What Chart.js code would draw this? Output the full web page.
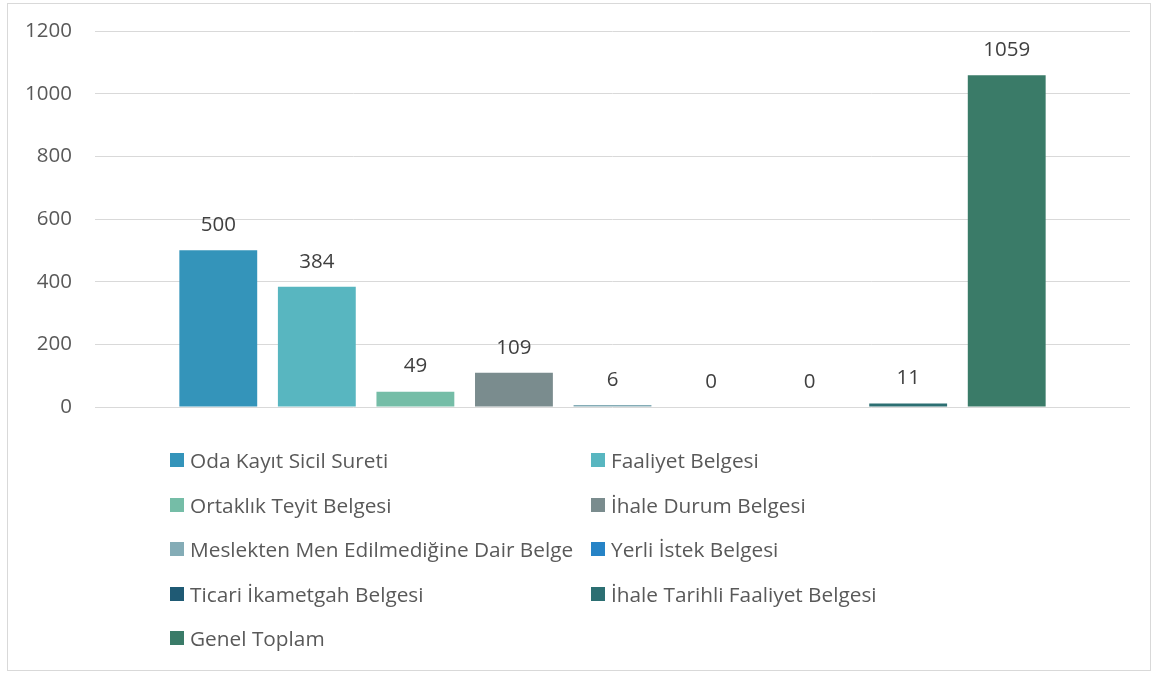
<!DOCTYPE html>
<html lang="tr">
<head>
<meta charset="UTF-8">
<title>Belgeler</title>
<style>
    body { margin: 0; background: #fff; }
    #wrap { position: relative; width: 1155px; height: 675px; }
    #frame { position: absolute; left: 7px; top: 3px; width: 1142px; height: 666px; border: 1px solid #d9d9d9; pointer-events: none; }
    #legend { position: absolute; left: 170px; top: 447px; display: grid; grid-template-columns: 421px 400px; grid-auto-rows: 44.5px;
              font-family: "Open Sans", sans-serif; font-size: 20.8px; color: #595959; }
    #legend .item { display: flex; align-items: center; height: 26px; white-space: nowrap; }
    #legend .box { width: 14px; height: 14px; margin-right: 6px; flex: none; }
</style>
</head>
<body>
<script src="https://cdn.jsdelivr.net/npm/chart.js@4/dist/chart.umd.min.js"></script>
<div id="wrap">
    <canvas id="chart" width="1155" height="675"></canvas>
    <div id="frame"></div>
    <div id="legend"></div>
</div>

<script>
    var seriesNames = ["Oda Kayıt Sicil Sureti", "Faaliyet Belgesi", "Ortaklık Teyit Belgesi", "İhale Durum Belgesi",
        "Meslekten Men Edilmediğine Dair Belge", "Yerli İstek Belgesi", "Ticari İkametgah Belgesi",
        "İhale Tarihli Faaliyet Belgesi", "Genel Toplam"];
    var seriesValues = [500, 384, 49, 109, 6, 0, 0, 11, 1059];
    var seriesColors = ["#3494ba", "#58b6c0", "#75bda7", "#7a8c8e", "#84acb6", "#2683c6", "#1f5a74", "#2c6f72", "#3a7b68"];
    var yTicks = [0, 200, 400, 600, 800, 1000, 1200];

    var datasets = [];
    for (var i = 0; i < seriesNames.length; i++) {
        datasets.push({
            label: seriesNames[i],
            data: [seriesValues[i]],
            backgroundColor: seriesColors[i],
            categoryPercentage: 0.857,
            barPercentage: 0.79
        });
    }

    // value labels above each bar
    var valueLabels = {
        id: 'valueLabels',
        afterDatasetsDraw: function (chart) {
            var ctx = chart.ctx;
            ctx.save();
            ctx.font = '20.5px "Open Sans", sans-serif';
            ctx.fillStyle = '#404040';
            ctx.textAlign = 'center';
            ctx.textBaseline = 'middle';
            chart.data.datasets.forEach(function (ds, i) {
                var bar = chart.getDatasetMeta(i).data[0];
                ctx.fillText(String(ds.data[0]), bar.x, bar.y - 25);
            });
            ctx.restore();
        }
    };

    new Chart(document.getElementById("chart"), {
        type: 'bar',
        data: { labels: [""], datasets: datasets },
        options: {
            responsive: false,
            animation: false,
            layout: { padding: { top: 31, right: 25, bottom: 268, left: 0 } },
            plugins: { legend: { display: false }, tooltip: { enabled: false } },
            scales: {
                x: { display: false },
                y: {
                    min: 0, max: 1200,
                    afterFit: function (s) { s.width = 95; s.paddingTop = 0; s.paddingBottom = 0; },
                    afterBuildTicks: function (s) { s.ticks = yTicks.map(function (v) { return { value: v }; }); },
                    border: { display: false },
                    grid: { color: '#d9d9d9', drawTicks: false },
                    ticks: {
                        padding: 23, color: '#595959',
                        font: { family: '"Open Sans", sans-serif', size: 20.5 },
                        callback: function (v) { return String(v); }
                    }
                }
            }
        },
        plugins: [valueLabels]
    });

    var legend = document.getElementById("legend");
    seriesNames.forEach(function (name, i) {
        var item = document.createElement("div");
        item.className = "item";
        var box = document.createElement("span");
        box.className = "box";
        box.style.background = seriesColors[i];
        var txt = document.createElement("span");
        txt.textContent = name;
        item.appendChild(box);
        item.appendChild(txt);
        legend.appendChild(item);
    });
</script>
</body>
</html>
